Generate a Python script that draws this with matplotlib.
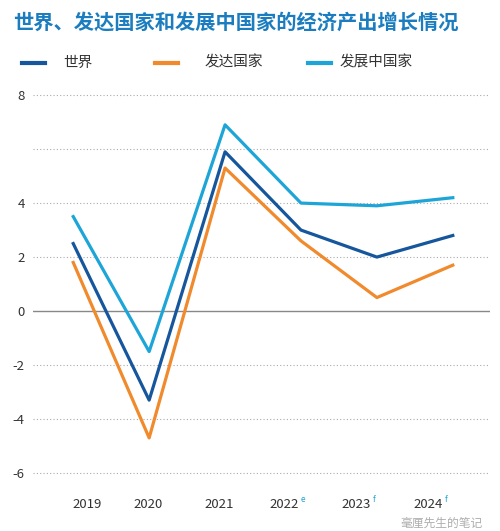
import matplotlib.pyplot as plt
from matplotlib.lines import Line2D

plt.rcParams['font.family'] = ['Noto Sans CJK SC', 'DejaVu Sans']

years = [2019, 2020, 2021, 2022, 2023, 2024]
year_labels = ["2019", "2020", "2021", "2022", "2023", "2024"]
year_marks = ["", "", "", "e", "f", "f"]
world = [2.5, -3.3, 5.9, 3.0, 2.0, 2.8]
developed = [1.8, -4.7, 5.3, 2.6, 0.5, 1.7]
developing = [3.5, -1.5, 6.9, 4.0, 3.9, 4.2]
series_names = ["世界", "发达国家", "发展中国家"]
grid_values = [8, 6, 4, 2, -2, -4, -6]
ytick_values = [8, 4, 2, 0, -2, -4, -6]

# horizontal nudge of each year label (points), the source isn't centred
label_shift = [10, -1, -4, -12, -15, -18]

c_world = "#16569c"
c_dev = "#f08a2c"
c_devg = "#1ea5d8"

fig = plt.figure(figsize=(5.0, 5.31), dpi=100)
ax = fig.add_axes([0.066, 0.094, 0.914, 0.737])

for g in grid_values:
    ax.axhline(g, color="#aaaaaa", lw=0.8, ls=(0, (1, 2)), zorder=1)
ax.axhline(0, color="#888888", lw=1.0, zorder=1)

ax.plot(years, developing, color=c_devg, lw=2.3, zorder=3)
ax.plot(years, world, color=c_world, lw=2.3, zorder=4)
ax.plot(years, developed, color=c_dev, lw=2.3, zorder=3)

ax.set_xlim(2018.47, 2024.49)
ax.set_ylim(-6.3, 8.2)
for s in ax.spines.values():
    s.set_visible(False)
ax.set_yticks(ytick_values)
ax.set_yticklabels([str(v) for v in ytick_values])
ax.tick_params(axis="y", length=0, pad=6, labelsize=9.5, labelcolor="#333333")
ax.set_xticks([])

for yr, lab, mk, dx in zip(years, year_labels, year_marks, label_shift):
    ax.annotate(lab, (yr, 0), xycoords=("data", "axes fraction"),
                xytext=(dx, -17), textcoords="offset points",
                ha="center", va="center", fontsize=9.5, color="#333333")
    if mk:
        ax.annotate(mk, (yr, 0), xycoords=("data", "axes fraction"),
                    xytext=(dx + 12, -13), textcoords="offset points",
                    ha="left", va="center", fontsize=6, color=c_devg)

fig.text(0.026, 0.958, "世界、发达国家和发展中国家的经济产出增长情况",
         fontsize=14.6, fontweight="bold", color="#1b7dbf", va="center", ha="left")

leg_y = 0.882
for (x0, x1, xt), name, col in zip([(0.044, 0.09, 0.126), (0.31, 0.356, 0.41),
                                    (0.616, 0.662, 0.68)],
                                   series_names, [c_world, c_dev, c_devg]):
    fig.add_artist(Line2D([x0, x1], [leg_y, leg_y], color=col, lw=3,
                          transform=fig.transFigure))
    fig.text(xt, leg_y, name, fontsize=10.5, color="#333333",
             va="center", ha="left")

fig.text(0.80, 0.014, "毫厘先生的笔记", fontsize=8.5, color="#999999",
         va="center", ha="left", alpha=0.8)

fig.savefig("out.png", dpi=100)
